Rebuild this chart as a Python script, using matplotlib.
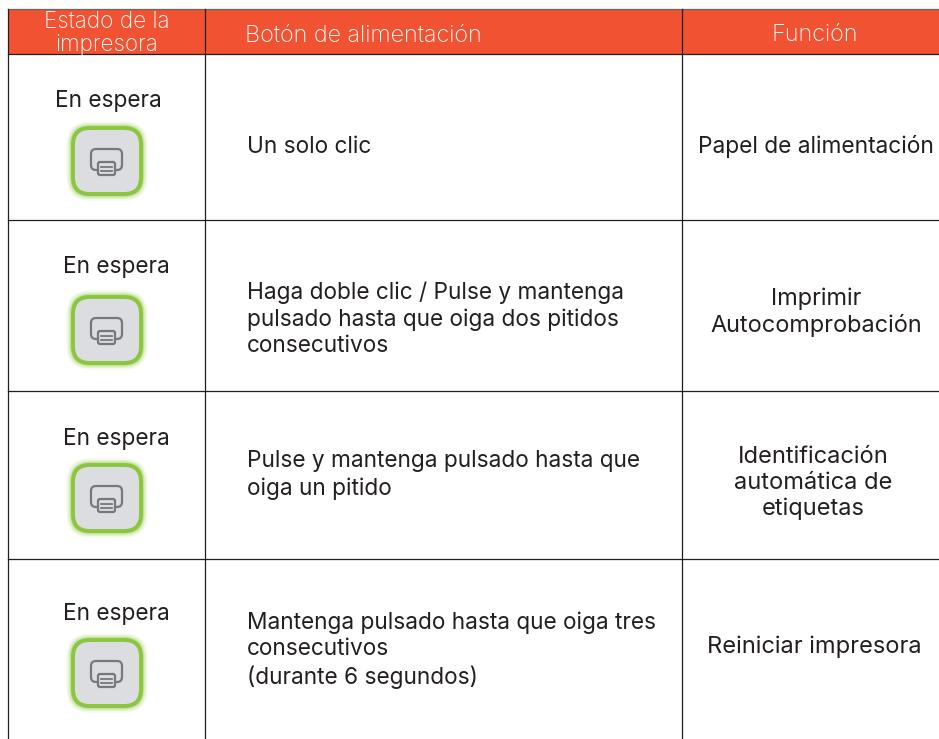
import matplotlib
matplotlib.use('Agg')
import matplotlib.pyplot as plt
from matplotlib.patches import FancyBboxPatch, Rectangle

plt.rcParams['font.family'] = ['Inter', 'DejaVu Sans']

headers = ['Estado de la\nimpresora', 'Botón de alimentación', 'Función']
states = ['En espera', 'En espera', 'En espera', 'En espera']
buttons = ['Un solo clic',
           'Haga doble clic / Pulse y mantenga\npulsado hasta que oiga dos pitidos\nconsecutivos',
           'Pulse y mantenga pulsado hasta que\noiga un pitido',
           'Mantenga pulsado hasta que oiga tres\nconsecutivos\n(durante 6 segundos)']
functions = ['Papel de alimentación',
             'Imprimir\nAutocomprobación',
             'Identificación\nautomática de\netiquetas',
             'Reiniciar impresora']

# pixel layout of the table
state_xy = [(108, 101), (116, 267), (116, 439), (116, 614)]
icon_xy = [(107, 161), (107, 330), (107, 498), (107, 673)]
button_y = [147, 319, 475, 650]
func_xy = [(816, 147), (816, 312), (813, 483), (814, 647)]
func_fs = [16.4, 16.9, 17.0, 17.0]
row_lines = [54, 220, 391, 559]
col_lines = [8, 205, 682]

orange = '#f15232'
ink = '#231f20'
fs = 16.3


def rbox(ax, x0, y0, x1, y1, r, **kw):
    p = FancyBboxPatch((x0 + r, y0 + r), x1 - x0 - 2 * r, y1 - y0 - 2 * r,
                       boxstyle='round,pad=%g,rounding_size=%g' % (r, r), **kw)
    ax.add_patch(p)


def drawIcon(ax, cx, cy):
    # soft green glow around the button
    for grow, alpha in [(6.5, 0.10), (5, 0.15), (3.5, 0.22), (2.5, 0.35)]:
        rbox(ax, cx - 34 - grow, cy - 33 - grow, cx + 34 + grow, cy + 33 + grow, 17 + grow,
             fc='#8cc63f', ec='none', alpha=alpha, zorder=3)
    rbox(ax, cx - 34, cy - 33, cx + 34, cy + 33, 17,
         fc='#dcdde0', ec='#8cc63f', lw=2.8, zorder=4)
    # printer glyph
    rbox(ax, cx - 16, cy - 12, cx + 15, cy + 9, 5, fc='none', ec='#77787b', lw=1.6, zorder=5)
    rbox(ax, cx - 9, cy + 1, cx + 8, cy + 14, 2, fc='#dcdde0', ec='#77787b', lw=1.6, zorder=6)
    ax.plot([cx - 6, cx + 5], [cy + 6, cy + 6], color='#77787b', lw=1.3, zorder=7)
    ax.plot([cx - 6, cx + 5], [cy + 10, cy + 10], color='#77787b', lw=1.3, zorder=7)


fig = plt.figure(figsize=(9.39, 7.39), dpi=100)
ax = fig.add_axes([0, 0, 1, 1])
ax.set_xlim(0, 939)
ax.set_ylim(739, 0)
ax.axis('off')

ax.add_patch(Rectangle((8, 9), 931, 45, fc=orange, ec='none', zorder=1))
ax.plot([8, 939], [9, 9], color='#6d6460', lw=0.9, zorder=2)
for y in row_lines:
    ax.plot([8, 939], [y, y], color=ink, lw=0.9, zorder=2)
for x in col_lines:
    ax.plot([x, x], [9, 739], color=ink, lw=0.9, zorder=2)

ax.text(107, 33, headers[0], color='white', fontsize=16.2, ha='center', va='center',
        linespacing=1.08, fontweight='light')
ax.text(245, 36, headers[1], color='white', fontsize=16.8, ha='left', va='center', fontweight='light')
ax.text(815, 35, headers[2], color='white', fontsize=16.8, ha='center', va='center', fontweight='light')

for i in range(len(states)):
    ax.text(state_xy[i][0], state_xy[i][1], states[i], color=ink, fontsize=fs, ha='center', va='center')
    drawIcon(ax, icon_xy[i][0], icon_xy[i][1])
    ax.text(247, button_y[i], buttons[i], color=ink, fontsize=fs, ha='left', va='center', linespacing=1.26)
    ax.text(func_xy[i][0], func_xy[i][1], functions[i], color=ink, fontsize=func_fs[i], ha='center', va='center',
            linespacing=1.24)

fig.savefig('out.png', dpi=100)
